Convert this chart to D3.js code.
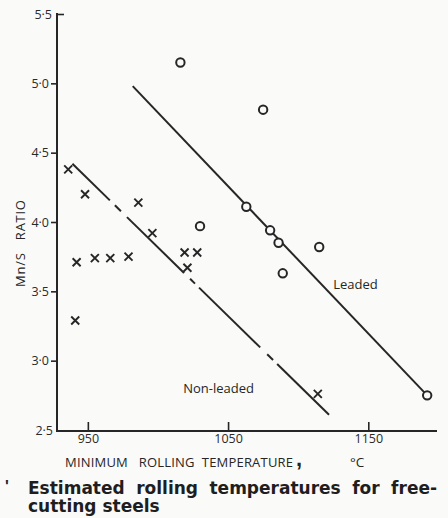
<!DOCTYPE html>
<html>
<head>
<meta charset="utf-8">
<script src="https://cdn.jsdelivr.net/npm/d3@7"></script>
<style>
  html, body { margin: 0; padding: 0; background: #fafaf8; }
  svg { display: block; }
  .ax text { font-family: "Open Sans", sans-serif; fill: #2a2a2a; }
</style>
</head>
<body>
<svg id="chart" width="448" height="518"></svg>
<script>
// Minimum rolling temperature (°C) vs Mn/S ratio for free-cutting steels
const nonLeadedTemp  = [936, 948, 986, 996, 942, 955, 966, 979, 1019, 1028, 1021, 941, 1114];
const nonLeadedRatio = [4.38, 4.20, 4.14, 3.92, 3.71, 3.74, 3.74, 3.75, 3.78, 3.78, 3.67, 3.29, 2.76];

const leadedTemp  = [1016, 1075, 1030, 1063, 1080, 1086, 1115, 1089, 1192];
const leadedRatio = [5.15, 4.81, 3.97, 4.11, 3.94, 3.85, 3.82, 3.63, 2.75];

// Fitted trend lines: [startTemp, startRatio, endTemp, endRatio]
const leadedFit    = [982, 4.98, 1192, 2.75];
const nonLeadedFit = [939, 4.42, 1122, 2.61];
// Drawn pieces of the broken non-leaded line (temperature ranges)
const nonLeadedPieces = [[939, 965.7], [969.3, 973.6], [977.9, 1018.6], [1022.9, 1026.4],
                         [1029.3, 1072.9], [1077.9, 1082.1], [1085, 1122]];

const yTicks = [2.5, 3.0, 3.5, 4.0, 4.5, 5.0, 5.5];
const xTicks = [950, 1050, 1150];

const ink = "#262626";
const svg = d3.select("#chart");

const x = d3.scaleLinear().domain([928, 1199]).range([57, 437]);
const y = d3.scaleLinear().domain([2.5, 5.5]).range([430, 14]);

// Axes
const yAxis = d3.axisLeft(y)
  .tickValues(yTicks)
  .tickSize(6)
  .tickPadding(2)
  .tickFormat(d => d3.format(".1f")(d).replace(".", "·"));
const gy = svg.append("g").attr("class", "ax").attr("transform", "translate(57,0)").call(yAxis);
gy.select(".domain").remove();
gy.selectAll(".tick text").style("font-size", "12.5px");
gy.selectAll(".tick line").attr("stroke", ink).attr("stroke-width", 1.6)
  .attr("x2", d => d === 5.5 ? 7 : (d === 2.5 ? 0 : -6));
gy.selectAll(".tick").filter(d => d === 5.5).select("text").attr("x", -5);
gy.selectAll(".tick").filter(d => d === 2.5).select("text").attr("x", -4);

const xAxis = d3.axisBottom(x)
  .tickValues(xTicks)
  .tickSizeInner(-9)
  .tickSizeOuter(0)
  .tickPadding(3)
  .tickFormat(d3.format("d"));
const gx = svg.append("g").attr("class", "ax").attr("transform", "translate(0,431)").call(xAxis);
gx.select(".domain").remove();
gx.selectAll(".tick text").style("font-size", "12.5px");
gx.selectAll(".tick line").attr("stroke", ink).attr("stroke-width", 1.6);

// Axis lines
svg.append("line").attr("x1", 57).attr("x2", 57).attr("y1", 13).attr("y2", 431.8)
  .attr("stroke", ink).attr("stroke-width", 2);
svg.append("line").attr("x1", 56).attr("x2", 437).attr("y1", 431).attr("y2", 431)
  .attr("stroke", ink).attr("stroke-width", 2);

// Axis titles
svg.append("text")
  .attr("transform", "translate(25,243.5) rotate(-90)")
  .attr("text-anchor", "middle")
  .attr("textLength", 87).attr("lengthAdjust", "spacing")
  .style("font-family", "'Open Sans', sans-serif").style("font-size", "13px")
  .style("white-space", "pre").attr("fill", ink)
  .text("Mn/S   RATIO");

svg.append("text")
  .attr("x", 65).attr("y", 467)
  .attr("textLength", 228).attr("lengthAdjust", "spacing")
  .style("font-family", "'Open Sans', sans-serif").style("font-size", "13px")
  .style("white-space", "pre").attr("fill", ink)
  .text("MINIMUM   ROLLING  TEMPERATURE");
svg.append("text")
  .attr("x", 296).attr("y", 466)
  .style("font-family", "'Liberation Sans', sans-serif").style("font-size", "22px")
  .style("font-weight", "bold").attr("fill", ink)
  .text(",");
svg.append("text")
  .attr("x", 350).attr("y", 467)
  .style("font-family", "'Open Sans', sans-serif").style("font-size", "13.5px")
  .attr("fill", ink)
  .text("°C");

// Trend lines
const lineGen = (fit, t0, t1) => {
  const f = d3.scaleLinear().domain([fit[0], fit[2]]).range([fit[1], fit[3]]);
  return d3.line().x(d => x(d)).y(d => y(f(d)))([t0, t1]);
};
svg.append("path").attr("d", lineGen(leadedFit, leadedFit[0], leadedFit[2]))
  .attr("stroke", ink).attr("stroke-width", 2).attr("fill", "none");
svg.selectAll("path.nl").data(nonLeadedPieces).join("path").attr("class", "nl")
  .attr("d", p => lineGen(nonLeadedFit, p[0], p[1]))
  .attr("stroke", ink).attr("stroke-width", 2).attr("fill", "none");

// Non-leaded points (crosses)
const s = 4;
svg.selectAll("path.cross").data(nonLeadedTemp.map((t, i) => [t, nonLeadedRatio[i]]))
  .join("path").attr("class", "cross")
  .attr("d", d => {
    const cx = x(d[0]), cy = y(d[1]);
    return `M${cx - s},${cy - s}L${cx + s},${cy + s}M${cx - s},${cy + s}L${cx + s},${cy - s}`;
  })
  .attr("stroke", ink).attr("stroke-width", 1.9).attr("fill", "none");

// Leaded points (open circles)
svg.selectAll("circle.pt").data(leadedTemp.map((t, i) => [t, leadedRatio[i]]))
  .join("circle").attr("class", "pt")
  .attr("cx", d => x(d[0])).attr("cy", d => y(d[1])).attr("r", 4.2)
  .attr("stroke", ink).attr("stroke-width", 2).attr("fill", "#fafaf8");

// Series labels
svg.append("text").attr("x", x(1125)).attr("y", y(3.52))
  .style("font-family", "'Open Sans', sans-serif").style("font-size", "13px").attr("fill", ink)
  .text("Leaded");
svg.append("text").attr("x", x(1018)).attr("y", y(2.77))
  .style("font-family", "'Open Sans', sans-serif").style("font-size", "13px").attr("fill", ink)
  .text("Non-leaded");

// Caption
svg.append("text").attr("x", 5).attr("y", 492)
  .style("font-family", "'Liberation Sans', sans-serif").style("font-size", "16px")
  .style("font-weight", "bold").attr("fill", ink).text("'");
const capFont = "'DejaVu Sans', sans-serif";
const cap1 = svg.append("text").attr("x", 28).attr("y", 494)
  .style("font-family", capFont).style("font-size", "17px")
  .style("font-weight", "bold").attr("fill", "#1e1e1e")
  .text("Estimated rolling temperatures for free-");
const natural = cap1.node().getComputedTextLength();
cap1.style("word-spacing", Math.max(0, (437 - 28 - natural) / 4) + "px");
svg.append("text").attr("x", 28).attr("y", 512)
  .style("font-family", capFont).style("font-size", "17px")
  .style("font-weight", "bold").attr("fill", "#1e1e1e")
  .text("cutting steels");
</script>
</body>
</html>
